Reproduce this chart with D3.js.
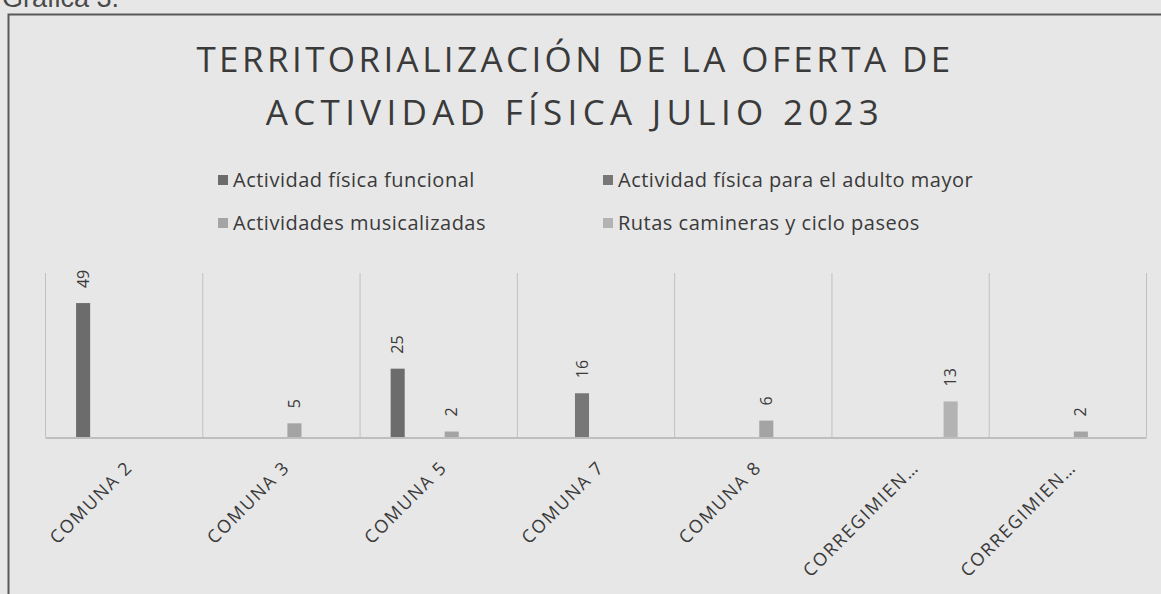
<!DOCTYPE html>
<html>
<head>
<meta charset="utf-8">
<script src="https://cdn.jsdelivr.net/npm/d3@7/dist/d3.min.js"></script>
<style>
  html, body { margin: 0; padding: 0; background: #e9e9e9; }
  svg { display: block; }
</style>
</head>
<body>
<svg id="chart" width="1161" height="594"></svg>
<script>
// ---- data ----
const categories = ["COMUNA 2", "COMUNA 3", "COMUNA 5", "COMUNA 7", "COMUNA 8", "CORREGIMIEN…", "CORREGIMIEN…"];
const seriesNames = [
  "Actividad física funcional",
  "Actividad física para el adulto mayor",
  "Actividades musicalizadas",
  "Rutas camineras y ciclo paseos"
];
const funcional     = [49, 0, 25, 0, 0, 0, 0];
const adultoMayor   = [0, 0, 0, 16, 0, 0, 0];
const musicalizadas = [0, 5, 2, 0, 6, 0, 2];
const rutas         = [0, 0, 0, 0, 0, 13, 0];
const seriesValues = [funcional, adultoMayor, musicalizadas, rutas];
const seriesColors = ["#6c6c6c", "#777777", "#a4a4a4", "#b3b3b3"];
const titleLines = ["TERRITORIALIZACIÓN DE LA OFERTA DE", "ACTIVIDAD FÍSICA JULIO 2023"];
const yMax = 60;

// ---- drawing ----
const svg = d3.select("#chart");
const W = 1161, H = 594;
const font = "'Open Sans', 'Noto Sans', sans-serif";
const textColor = "#3a3a3a";

svg.append("rect").attr("width", W).attr("height", H).attr("fill", "#e7e7e7");

// caption above the frame (cut off by the page top)
svg.append("text").attr("x", 2).attr("y", 7)
  .attr("font-family", "'Liberation Sans', Arial, sans-serif").attr("font-size", 27)
  .attr("fill", "#4a4a4a").text("Gráfica 3.");

// frame
svg.append("path")
  .attr("d", `M8.5,${H + 2} V14.5 H${W + 2}`)
  .attr("fill", "none").attr("stroke", "#5a5a5a").attr("stroke-width", 2);

// title
const titleSpacing = [3.4, 5.3];
svg.append("text")
  .attr("text-anchor", "middle")
  .attr("font-family", font).attr("font-size", 35).attr("fill", textColor)
  .selectAll("tspan").data(titleLines).join("tspan")
  .attr("letter-spacing", (d, i) => titleSpacing[i])
  .attr("x", 575).attr("y", (d, i) => 72 + i * 53).text(d => d);

// scales
const idx = d3.range(categories.length);
const x0 = d3.scaleBand().domain(idx).range([45, 1146]).padding(0);
const x1 = d3.scaleBand().domain(d3.range(seriesNames.length))
  .range([0, x0.bandwidth()]).paddingInner(0.48).paddingOuter(1.15);
const y = d3.scaleLinear().domain([0, yMax]).range([437, 273]);

// legend
const legendCols = [218, 603];
const legendRows = [187, 230];
const lg = svg.append("g").selectAll("g").data(seriesNames).join("g")
  .attr("transform", (d, i) => `translate(${legendCols[i % 2]},${legendRows[Math.floor(i / 2)]})`);
lg.append("rect").attr("x", 0).attr("y", -12).attr("width", 10).attr("height", 10)
  .attr("fill", (d, i) => seriesColors[i]);
lg.append("text").attr("x", 15).attr("y", 0)
  .attr("font-family", font).attr("font-size", 20).attr("fill", textColor)
  .attr("letter-spacing", 0.5)
  .text(d => d);

// vertical category separators
const bounds = idx.map(i => x0(i)).concat([x0.range()[1]]);
svg.append("g").selectAll("line").data(bounds).join("line")
  .attr("x1", d => d + 0.5).attr("x2", d => d + 0.5)
  .attr("y1", y(yMax)).attr("y2", y(0))
  .attr("stroke", "#c0c0c0").attr("stroke-width", 1);

// x axis (line only, labels drawn rotated)
const xAxis = d3.axisBottom(x0).tickSize(0).tickFormat(i => categories[i]);
const axG = svg.append("g").attr("transform", `translate(0,${y(0) + 0.5})`).call(xAxis);
axG.select(".domain").attr("stroke", "#b0b0b0").attr("stroke-width", 1.5);
axG.selectAll(".tick text")
  .attr("font-family", font).attr("font-size", 18).attr("fill", textColor)
  .attr("letter-spacing", 1.7)
  .attr("text-anchor", "end")
  .attr("y", 0).attr("dy", "0.71em")
  .attr("transform", "translate(1,22) rotate(-45)");

// bars
const bars = [];
seriesValues.forEach((vals, s) => vals.forEach((v, c) => { if (v > 0) bars.push({ s, c, v }); }));
svg.append("g").selectAll("rect").data(bars).join("rect")
  .attr("x", d => x0(d.c) + x1(d.s))
  .attr("width", x1.bandwidth())
  .attr("y", d => y(d.v))
  .attr("height", d => y(0) - y(d.v))
  .attr("fill", d => seriesColors[d.s]);

// data labels (rotated)
svg.append("g").selectAll("text").data(bars).join("text")
  .attr("transform", d => `translate(${x0(d.c) + x1(d.s) + x1.bandwidth() / 2},${y(d.v) - 15}) rotate(-90)`)
  .attr("text-anchor", "start").attr("dy", "0.35em")
  .attr("font-family", font).attr("font-size", 16).attr("fill", textColor)
  .text(d => d.v);
</script>
</body>
</html>
